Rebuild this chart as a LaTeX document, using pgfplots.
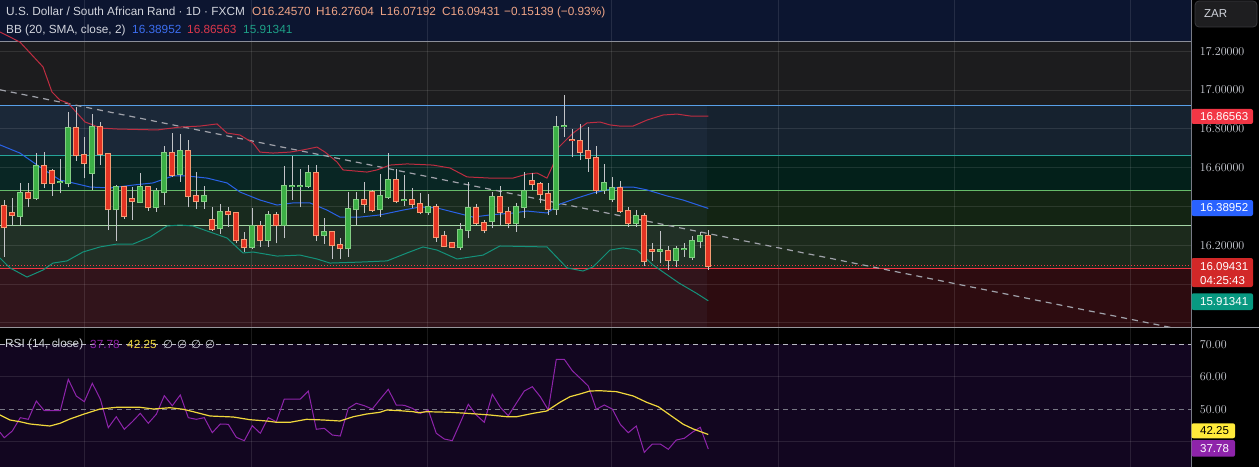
\documentclass[border=0pt]{standalone}
\usepackage{fontspec}
\setmainfont{Liberation Sans}
\newfontfamily\dejavu{DejaVu Sans}
\usepackage{pgfplots}
\usepackage{pgfplotstable}
\pgfplotsset{compat=1.18}

\definecolor{navy}{RGB}{12,21,48}
\definecolor{bandA}{RGB}{28,28,30}
\definecolor{bandB}{RGB}{22,34,47}
\definecolor{bandC}{RGB}{3,32,26}
\definecolor{bandD}{RGB}{19,36,19}
\definecolor{bandE}{RGB}{28,42,28}
\definecolor{bandF}{RGB}{45,12,16}
\definecolor{fibgray}{RGB}{140,143,153}
\definecolor{fibblue}{RGB}{88,160,232}
\definecolor{fibteal}{RGB}{38,166,154}
\definecolor{fibgreen}{RGB}{102,187,106}
\definecolor{fiblgreen}{RGB}{165,214,167}
\definecolor{fibred}{RGB}{242,54,69}
\definecolor{bbup}{RGB}{190,45,65}
\definecolor{bbmid}{RGB}{41,98,230}
\definecolor{bblow}{RGB}{20,145,122}
\definecolor{wick}{RGB}{195,196,200}
\definecolor{gfill}{RGB}{60,175,70}
\definecolor{gbord}{RGB}{130,205,130}
\definecolor{rfill}{RGB}{228,52,36}
\definecolor{rbord}{RGB}{245,155,115}
\definecolor{txt}{RGB}{209,212,220}
\definecolor{rsibg}{RGB}{18,6,32}
\definecolor{rsiline}{RGB}{142,36,170}
\definecolor{rsima}{RGB}{240,215,60}
\definecolor{tagred}{RGB}{242,54,69}
\definecolor{tagclose}{RGB}{210,40,40}
\definecolor{tagblue}{RGB}{41,98,255}
\definecolor{tagteal}{RGB}{8,153,129}
\definecolor{tagyellow}{RGB}{255,235,59}
\definecolor{tagpurple}{RGB}{142,36,170}
\definecolor{ohlc}{RGB}{240,165,135}
\definecolor{bbtxtblue}{RGB}{60,110,240}
\definecolor{bbtxtred}{RGB}{220,55,75}
\definecolor{bbtxtteal}{RGB}{30,160,135}
\definecolor{sep}{RGB}{120,123,134}
\definecolor{zarbg}{RGB}{30,30,32}
\definecolor{zarbd}{RGB}{58,58,62}

\pgfplotstableread{
i o h l c
1 16.402 16.433 16.141 16.296
2 16.364 16.442 16.304 16.354
3 16.352 16.519 16.304 16.467
4 16.467 16.519 16.395 16.445
5 16.445 16.674 16.433 16.608
6 16.608 16.682 16.493 16.519
7 16.583 16.591 16.454 16.522
8 16.526 16.643 16.467 16.528
9 16.522 16.885 16.498 16.802
10 16.802 16.914 16.636 16.665
11 16.665 16.760 16.545 16.622
12 16.574 16.876 16.485 16.808
13 16.808 16.837 16.613 16.668
14 16.668 16.668 16.278 16.385
15 16.385 16.510 16.223 16.498
16 16.498 16.505 16.337 16.352
17 16.438 16.498 16.330 16.426
18 16.424 16.571 16.416 16.498
19 16.498 16.505 16.378 16.395
20 16.395 16.493 16.373 16.481
21 16.476 16.711 16.407 16.674
22 16.674 16.777 16.553 16.562
23 16.567 16.772 16.528 16.686
24 16.686 16.742 16.395 16.455
25 16.455 16.579 16.385 16.430
26 16.430 16.505 16.388 16.454
27 16.330 16.395 16.273 16.285
28 16.287 16.410 16.258 16.369
29 16.369 16.395 16.296 16.361
30 16.364 16.373 16.210 16.227
31 16.227 16.270 16.167 16.192
32 16.192 16.390 16.179 16.299
33 16.299 16.325 16.192 16.227
34 16.227 16.376 16.192 16.356
35 16.356 16.373 16.210 16.302
36 16.302 16.608 16.235 16.505
37 16.505 16.660 16.433 16.506
38 16.505 16.591 16.395 16.506
39 16.505 16.612 16.493 16.571
40 16.571 16.612 16.223 16.251
41 16.251 16.339 16.206 16.266
42 16.266 16.266 16.131 16.199
43 16.199 16.235 16.131 16.184
44 16.184 16.473 16.141 16.385
45 16.385 16.476 16.304 16.433
46 16.433 16.528 16.368 16.412
47 16.473 16.485 16.373 16.381
48 16.385 16.567 16.347 16.452
49 16.450 16.677 16.440 16.536
50 16.536 16.591 16.416 16.430
51 16.432 16.560 16.402 16.434
52 16.433 16.493 16.393 16.411
53 16.411 16.471 16.359 16.373
54 16.373 16.464 16.356 16.399
55 16.399 16.412 16.218 16.244
56 16.248 16.273 16.189 16.198
57 16.210 16.213 16.184 16.192
58 16.192 16.313 16.175 16.278
59 16.278 16.528 16.235 16.390
60 16.390 16.412 16.304 16.313
61 16.313 16.330 16.261 16.278
62 16.327 16.474 16.287 16.450
63 16.450 16.505 16.304 16.369
64 16.369 16.399 16.287 16.313
65 16.313 16.419 16.270 16.399
66 16.399 16.579 16.339 16.481
67 16.529 16.571 16.485 16.514
68 16.514 16.528 16.416 16.462
69 16.462 16.519 16.356 16.385
70 16.385 16.866 16.356 16.808
71 16.814 16.974 16.760 16.816
72 16.744 16.797 16.653 16.740
73 16.735 16.825 16.639 16.682
74 16.686 16.809 16.579 16.648
75 16.648 16.711 16.462 16.485
76 16.485 16.619 16.464 16.519
77 16.438 16.553 16.423 16.493
78 16.493 16.531 16.368 16.378
79 16.378 16.399 16.296 16.313
80 16.313 16.381 16.296 16.352
81 16.352 16.364 16.095 16.120
82 16.177 16.210 16.120 16.172
83 16.171 16.272 16.107 16.173
84 16.172 16.196 16.072 16.124
85 16.124 16.196 16.089 16.179
86 16.181 16.213 16.141 16.183
87 16.141 16.248 16.124 16.220
88 16.220 16.270 16.184 16.248
89 16.24570 16.27604 16.07192 16.09431
}\candles

\pgfplotstableread{
x y
0.46 17.299
2.96 17.247
5.84 17.119
6.96 16.990
7.96 16.948
8.96 16.933
10.09 16.881
11.09 16.835
12.09 16.820
12.96 16.804
15.09 16.799
20.09 16.794
22.96 16.809
25.46 16.814
27.59 16.825
28.84 16.778
30.46 16.768
32.09 16.727
32.96 16.680
34.59 16.675
36.71 16.680
38.34 16.691
40.09 16.706
41.09 16.680
42.59 16.629
43.34 16.588
46.34 16.577
47.59 16.588
49.21 16.613
51.34 16.619
54.59 16.613
56.71 16.598
58.84 16.552
61.71 16.546
64.59 16.546
66.34 16.567
67.59 16.572
68.84 16.546
69.59 16.613
70.21 16.701
72.09 16.778
73.84 16.830
75.46 16.835
76.71 16.820
77.96 16.814
79.59 16.814
81.34 16.845
83.34 16.871
85.09 16.876
86.71 16.866
89 16.86563
}\bbupper

\pgfplotstableread{
x y
0.46 16.717
2.96 16.675
5.46 16.603
7.96 16.536
9.59 16.521
11.71 16.500
14.21 16.495
17.09 16.510
19.59 16.521
22.09 16.557
23.84 16.557
26.34 16.546
28.84 16.521
30.46 16.474
32.96 16.433
35.09 16.407
37.09 16.418
39.21 16.418
41.34 16.381
42.96 16.345
45.46 16.345
47.96 16.356
50.84 16.381
52.96 16.397
55.09 16.392
57.59 16.366
59.59 16.345
61.71 16.356
64.59 16.366
66.34 16.376
68.84 16.366
70.46 16.412
72.59 16.443
74.59 16.469
76.34 16.485
77.96 16.500
79.59 16.500
81.34 16.485
83.84 16.454
85.84 16.433
89 16.38952
}\bbmiddle

\pgfplotstableread{
x y
0.46 16.134
1.71 16.083
3.84 16.036
5.84 16.072
7.09 16.108
8.84 16.119
10.84 16.165
12.96 16.191
15.09 16.206
17.09 16.206
19.21 16.242
21.34 16.299
22.96 16.304
24.59 16.299
26.71 16.268
28.84 16.237
30.84 16.160
32.09 16.165
35.09 16.144
37.96 16.149
40.09 16.129
41.71 16.108
45.46 16.113
48.84 16.119
51.34 16.160
53.34 16.191
55.09 16.175
57.59 16.129
60.84 16.149
62.96 16.196
68.84 16.191
71.34 16.083
73.34 16.067
74.59 16.088
76.71 16.175
78.34 16.186
80.09 16.175
82.09 16.098
85.34 16.005
87.46 15.954
89 15.91341
}\bblower

\pgfplotstableread{
x y
0.46 42.92
1 41.26
2 43.32
3 47.42
4 46.92
5 52.55
6 49.57
7 49.57
8 49.57
9 59.23
10 54.09
11 52.34
12 58.00
13 53.17
14 44.34
15 47.72
16 43.85
17 46.18
18 48.77
19 45.69
20 48.46
21 54.18
22 51.11
23 54.40
24 47.42
25 46.92
26 47.42
27 42.80
28 45.48
29 45.38
30 41.38
31 40.34
32 44.95
33 42.62
34 47.42
35 46.18
36 53.17
37 53.17
38 53.17
39 55.63
40 43.85
41 44.15
42 42.09
43 41.78
44 50.31
45 51.85
46 51.11
47 50.09
48 53.17
49 56.15
50 51.32
51 51.23
52 50.31
53 48.71
54 49.78
55 42.62
56 40.86
57 40.34
58 45.88
59 51.54
60 48.25
61 46.00
62 54.62
63 50.62
64 48.03
65 51.85
66 55.63
67 56.95
68 53.88
69 49.78
70 65.38
71 65.38
72 61.88
73 59.54
74 57.17
75 50.00
76 51.32
77 50.09
78 45.38
79 42.80
80 44.86
81 36.77
82 39.32
83 39.32
84 37.69
85 40.55
86 41.08
87 42.92
88 44.46
89 37.78
}\rsi

\pgfplotstableread{
x y
0.46 48.25
1.71 46.71
2.96 46.18
4.21 45.48
6.71 44.86
7.96 45.69
9.21 47.02
10.88 48.46
12.96 50.09
15.05 50.62
17.96 50.62
19.63 50.09
21.71 50.49
23.38 50.00
24.63 49.26
26.71 47.94
29.63 47.63
31.71 46.80
33.80 46.40
35.05 46.00
36.71 46.00
38.80 46.92
40.88 46.71
42.96 46.40
44.63 47.72
46.30 48.55
47.96 49.08
48.80 49.78
50.46 49.57
52.13 49.26
52.75 48.95
53.80 49.26
56.71 49.08
58.80 48.77
61.71 48.25
63.80 47.72
65.05 47.72
67.13 48.77
68.80 49.48
70.46 52.15
71.71 53.88
72.96 54.71
74.21 55.63
75.46 55.72
77.55 55.42
79.63 54.09
81.30 52.15
82.75 50.80
84.21 48.25
85.88 45.38
87.13 43.94
89 42.25
}\rsima

\def\xL{0.4625}
\def\xR{149.3375}

\pgfplotsset{candlepart/.style={draw=none, mark=none, forget plot,
    error bars/.cd, y dir=plus, y explicit, error mark=none}}

\begin{document}
\begin{tikzpicture}[x=1pt,y=1pt]
\useasboundingbox (0,0) rectangle (1259,467);
\fill[black] (0,0) rectangle (1259,467);

% ---------------- main price pane ----------------
\begin{axis}[at={(0pt,140pt)}, anchor=south west, scale only axis,
  width=1191pt, height=327pt,
  xmin=0.4625, xmax=149.3375, ymin=15.7784, ymax=17.4639,
  hide axis, clip mode=individual]
  % fib bands
  \fill[navy]  (axis cs:\xL,17.249) rectangle (axis cs:\xR,17.4639);
  \fill[bandA] (axis cs:\xL,16.9227) rectangle (axis cs:\xR,17.249);
  \fill[bandB] (axis cs:\xL,16.661) rectangle (axis cs:\xR,16.9227);
  \fill[bandC] (axis cs:\xL,16.481) rectangle (axis cs:\xR,16.661);
  \fill[bandD] (axis cs:\xL,16.300) rectangle (axis cs:\xR,16.481);
  \fill[bandE] (axis cs:\xL,16.081) rectangle (axis cs:\xR,16.300);
  \fill[bandF] (axis cs:\xL,15.7784) rectangle (axis cs:\xR,16.081);
  % shaded range
  \fill[fill={rgb,255:red,120;green,150;blue,210}, fill opacity=0.06]
     (axis cs:\xL,15.7784) rectangle (axis cs:88.80,16.9227);
  % grid
  \pgfplotsinvokeforeach{15.8,16.0,16.2,16.4,16.6,16.8,17.0,17.2}{
    \draw[white, opacity=0.1, line width=1pt] (axis cs:\xL,#1) -- (axis cs:\xR,#1);}
  \pgfplotsinvokeforeach{11.0,31.92,53.87,76.92,97.77,119.77,141.76}{
    \draw[white, opacity=0.1, line width=1pt] (axis cs:#1,15.7784) -- (axis cs:#1,17.4639);}
  % fib lines
  \draw[fibgray, line width=0.9pt]   (axis cs:\xL,17.249) -- (axis cs:\xR,17.249);
  \draw[fibblue, line width=0.9pt]   (axis cs:\xL,16.9227) -- (axis cs:\xR,16.9227);
  \draw[fibteal, line width=0.9pt]   (axis cs:\xL,16.661) -- (axis cs:\xR,16.661);
  \draw[fibgreen, line width=0.9pt]  (axis cs:\xL,16.481) -- (axis cs:\xR,16.481);
  \draw[fiblgreen, line width=0.9pt] (axis cs:\xL,16.300) -- (axis cs:\xR,16.300);
  \draw[fibred, line width=1.2pt]    (axis cs:\xL,16.081) -- (axis cs:\xR,16.081);
  % current price dotted line
  \addplot[fibred, line width=0.9pt, dash pattern=on 1pt off 2pt, forget plot]
    coordinates {(0.4625,16.09431) (149.3375,16.09431)};
  % trend line
  \addplot[color={rgb,255:red,160;green,162;blue,170}, line width=1.2pt,
    dash pattern=on 6pt off 5pt, forget plot]
    coordinates {(0.4625,17.001) (149.3375,15.755)};
  % Bollinger bands
  \addplot[bbup, line width=1pt, forget plot] table[x=x,y=y] {\bbupper};
  \addplot[bbmid, line width=1pt, forget plot] table[x=x,y=y] {\bbmiddle};
  \addplot[bblow, line width=1pt, forget plot] table[x=x,y=y] {\bblower};
  % wicks
  \addplot[candlepart, error bar style={draw=wick, line width=1pt}]
    table[x=i, y=l, y error plus expr=\thisrow{h}-\thisrow{l}] {\candles};
  % green bodies
  \addplot[candlepart, /pgfplots/restrict expr to domain={\thisrow{c}-\thisrow{o}}{0:5},
    error bar style={draw=gbord, line width=5.6pt}]
    table[x=i, y expr=\thisrow{o}-0.005, y error plus expr=\thisrow{c}-\thisrow{o}+0.010] {\candles};
  \addplot[candlepart, /pgfplots/restrict expr to domain={\thisrow{c}-\thisrow{o}}{0:5},
    error bar style={draw=gfill, line width=3.6pt}]
    table[x=i, y=o, y error plus expr=\thisrow{c}-\thisrow{o}] {\candles};
  % red bodies
  \addplot[candlepart, /pgfplots/restrict expr to domain={\thisrow{o}-\thisrow{c}}{0.000001:5},
    error bar style={draw=rbord, line width=5.6pt}]
    table[x=i, y expr=\thisrow{c}-0.005, y error plus expr=\thisrow{o}-\thisrow{c}+0.010] {\candles};
  \addplot[candlepart, /pgfplots/restrict expr to domain={\thisrow{o}-\thisrow{c}}{0.000001:5},
    error bar style={draw=rfill, line width=3.6pt}]
    table[x=i, y=c, y error plus expr=\thisrow{o}-\thisrow{c}] {\candles};
  % price scale labels
  \pgfplotsinvokeforeach{17.2,17.0,16.8,16.6,16.2}{
    \node[anchor=west, text=txt, font=\fontsize{11.5}{13}\selectfont, inner sep=0pt, xshift=8.8pt]
      at (axis cs:\xR,#1) {\pgfmathprintnumber[fixed,zerofill,precision=5]{#1}};}
\end{axis}

% ---------------- RSI pane ----------------
\begin{axis}[at={(0pt,0pt)}, anchor=south west, scale only axis,
  width=1191pt, height=139pt,
  xmin=0.4625, xmax=149.3375, ymin=32.246, ymax=75.015,
  hide axis, clip mode=individual]
  \fill[rsibg] (axis cs:\xL,32.246) rectangle (axis cs:\xR,70);
  \pgfplotsinvokeforeach{40,60}{
    \draw[white, opacity=0.1, line width=1pt] (axis cs:\xL,#1) -- (axis cs:\xR,#1);}
  \pgfplotsinvokeforeach{11.0,31.92,53.87,76.92,97.77,119.77,141.76}{
    \draw[white, opacity=0.1, line width=1pt] (axis cs:#1,32.246) -- (axis cs:#1,75.015);}
  \draw[color={rgb,255:red,185;green,185;blue,195}, line width=1pt, dash pattern=on 5pt off 4pt]
    (axis cs:\xL,70) -- (axis cs:\xR,70);
  \draw[color={rgb,255:red,120;green,120;blue,132}, line width=1pt, dash pattern=on 5pt off 4pt]
    (axis cs:\xL,50) -- (axis cs:\xR,50);
  \addplot[rsiline, line width=1pt, forget plot] table[x=x,y=y] {\rsi};
  \addplot[rsima, line width=1.2pt, forget plot] table[x=x,y=y] {\rsima};
  \pgfplotsinvokeforeach{70,60,50}{
    \node[anchor=west, text=txt, font=\fontsize{11.5}{13}\selectfont, inner sep=0pt, xshift=8.8pt]
      at (axis cs:\xR,#1) {\pgfmathprintnumber[fixed,zerofill,precision=2]{#1}};}
\end{axis}

% separators
\draw[color={rgb,255:red,150;green,150;blue,156}, line width=1.2pt] (0,139.5) -- (1259,139.5);
\draw[sep, line width=1pt] (1191.5,0) -- (1191.5,467);

% header texts
\begin{scope}[every node/.style={inner sep=0pt, anchor=base west, font=\fontsize{11.8}{14}\selectfont}]
\node[text=txt] at (6,451) {U.S. Dollar / South African Rand · 1D · FXCM};
\node[text=ohlc] at (252,451) {O16.24570};
\node[text=ohlc] at (316,451) {H16.27604};
\node[text=ohlc] at (380,451) {L16.07192};
\node[text=ohlc] at (442,451) {C16.09431};
\node[text=ohlc] at (504,451) {−0.15139 (−0.93\%)};
\node[text=txt] at (6,433.7) {BB (20, SMA, close, 2)};
\node[text=bbtxtblue] at (132,433.7) {16.38952};
\node[text=bbtxtred] at (187,433.7) {16.86563};
\node[text=bbtxtteal] at (243,433.7) {15.91341};
\end{scope}
\begin{scope}[every node/.style={inner sep=0pt, anchor=west, font=\fontsize{11.8}{14}\selectfont}]
\node[text=txt] at (5,122.7) {RSI (14, close)};
\node[text=rsiline] at (90,122.7) {37.78};
\node[text=rsima] at (127,122.7) {42.25};
\node[text=txt] at (163,122.7) {\dejavu\fontsize{11.5}{13}\selectfont ∅\hspace{4pt}∅\hspace{4pt}∅\hspace{4pt}∅};
\end{scope}

% ZAR button
\filldraw[fill=zarbg, draw=zarbd, rounded corners=4pt, line width=0.8pt] (1195,440) rectangle (1257,466);
\node[anchor=west, inner sep=0pt, text=txt, font=\fontsize{11.5}{13}\selectfont] at (1204,453) {ZAR};

% price tags
\begin{scope}[every node/.style={inner sep=0pt, anchor=west, font=\fontsize{11.5}{13}\selectfont}]
\fill[tagred, rounded corners=2pt] (1191.5,343) rectangle (1253,358);
\node[text=white] at (1200,350.5) {16.86563};
\fill[tagblue, rounded corners=2pt] (1191.5,251) rectangle (1253,267);
\node[text=white] at (1200,259) {16.38952};
\fill[tagclose, rounded corners=2pt] (1191.5,180) rectangle (1253,209);
\node[text=white] at (1200,200.5) {16.09431};
\node[text=white] at (1200,186) {04:25:43};
\fill[tagteal, rounded corners=2pt] (1191.5,157) rectangle (1253,173.7);
\node[text=white] at (1200,165.5) {15.91341};
\fill[tagyellow, rounded corners=2pt] (1191.5,28.7) rectangle (1235,43.7);
\node[text=black] at (1200,36.2) {42.25};
\fill[tagpurple, rounded corners=2pt] (1191.5,10.3) rectangle (1235,27);
\node[text=white] at (1200,18.7) {37.78};
\end{scope}
\end{tikzpicture}
\end{document}
